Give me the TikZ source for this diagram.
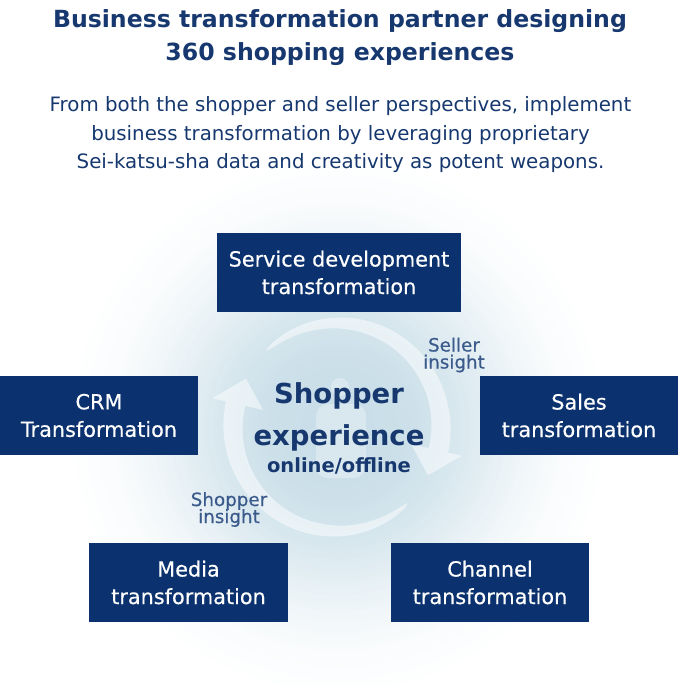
\documentclass[tikz,border=0pt]{standalone}
\usepackage{fontspec}
\setmainfont{DejaVu Sans}
\newfontfamily\boldfont{DejaVu Sans Bold}
\newfontfamily\semifont{DejaVu Sans}[FakeBold=0.4]
\definecolor{navy}{HTML}{0B326E}
\definecolor{titleblue}{HTML}{16386F}
\definecolor{labelblue}{HTML}{3B5A8C}
\definecolor{glow}{HTML}{C9DEE8}
\tikzset{
  box/.style={rectangle, fill=navy, text=white, align=center, inner sep=0pt,
    minimum height=79pt, font=\semifont\fontsize{20.8}{27.5}\selectfont},
  title/.style={anchor=base, text=titleblue, font=\boldfont\fontsize{23.6}{30}\selectfont},
  subtitle/.style={anchor=base, text=titleblue, font=\fontsize{19.8}{24}\selectfont},
  insight/.style={anchor=base, text=labelblue, font=\semifont\fontsize{18.3}{20}\selectfont},
  bigcenter/.style={anchor=base, text=titleblue, font=\boldfont\fontsize{27.5}{32}\selectfont},
  smallcenter/.style={anchor=base, text=titleblue, font=\boldfont\fontsize{19.5}{22}\selectfont},
  arcfill/.style={fill=white, fill opacity=0.5},
}
\begin{document}
\begin{tikzpicture}[x=1pt, y=-1pt]
\useasboundingbox (0,0) rectangle (678,686);
% glow
\foreach \r in {264,260,...,4}{
  \pgfmathtruncatemacro\p{100*exp(-(\r/175)^3)}
  \fill[glow!\p!white] (338,427) circle (\r);
}
% silhouette
\fill[white, fill opacity=0.3] (340,387) circle (9);
\fill[white, fill opacity=0.3, rounded corners=12pt] (316,478) -- (316,404) -- (366,404) -- (366,478) -- cycle;
% upper circular arrow
\fill[arcfill]
  plot[domain=227:373, samples=70, variable=\t] ({337+(104+10*sqrt((\t-227)/146))*cos(\t)}, {427+(104+10*sqrt((\t-227)/146))*sin(\t)})
  -- ({337+128*cos(373)}, {427+128*sin(373)})
  -- ({337+103*cos(388)}, {427+103*sin(388)})
  -- ({337+76*cos(373)}, {427+76*sin(373)})
  -- plot[domain=373:227, samples=70, variable=\t] ({337+(104-10*sqrt((\t-227)/146))*cos(\t)}, {427+(104-10*sqrt((\t-227)/146))*sin(\t)})
  -- cycle;
% lower circular arrow
\fill[arcfill]
  plot[domain=47:193, samples=70, variable=\t] ({337+(104+10*sqrt((\t-47)/146))*cos(\t)}, {427+(104+10*sqrt((\t-47)/146))*sin(\t)})
  -- ({337+128*cos(193)}, {427+128*sin(193)})
  -- ({337+103*cos(208)}, {427+103*sin(208)})
  -- ({337+76*cos(193)}, {427+76*sin(193)})
  -- plot[domain=193:47, samples=70, variable=\t] ({337+(104-10*sqrt((\t-47)/146))*cos(\t)}, {427+(104-10*sqrt((\t-47)/146))*sin(\t)})
  -- cycle;
% title
\node[title] (t1) at (340,27) {Business transformation partner designing};
\node[title] (t2) at (340,60) {360 shopping experiences};
\node[subtitle] (s1) at (340.5,111.5) {From both the shopper and seller perspectives, implement};
\node[subtitle] (s2) at (340.5,140) {business transformation by leveraging proprietary};
\node[subtitle] (s3) at (340.5,168.5) {Sei-katsu-sha data and creativity as potent weapons.};
% boxes
\node[box, minimum width=244pt] (service) at (339,272.5) {Service development\\transformation};
\node[box, minimum width=198pt] (crm) at (99,415.5) {CRM\\Transformation};
\node[box, minimum width=198pt] (sales) at (579,415.5) {Sales\\transformation};
\node[box, minimum width=199pt] (media) at (188.5,582.5) {Media\\transformation};
\node[box, minimum width=198pt] (channel) at (490,582.5) {Channel\\transformation};
% center
\node[bigcenter] (shop) at (339,403) {Shopper};
\node[bigcenter] (exp) at (339,445) {experience};
\node[smallcenter] (onoff) at (339,472) {online/offline};
% insights
\node[insight] (seller1) at (454,351.5) {Seller};
\node[insight] (seller2) at (454,368.5) {insight};
\node[insight] (shopins1) at (229,506) {Shopper};
\node[insight] (shopins2) at (229,523) {insight};
\end{tikzpicture}
\end{document}
